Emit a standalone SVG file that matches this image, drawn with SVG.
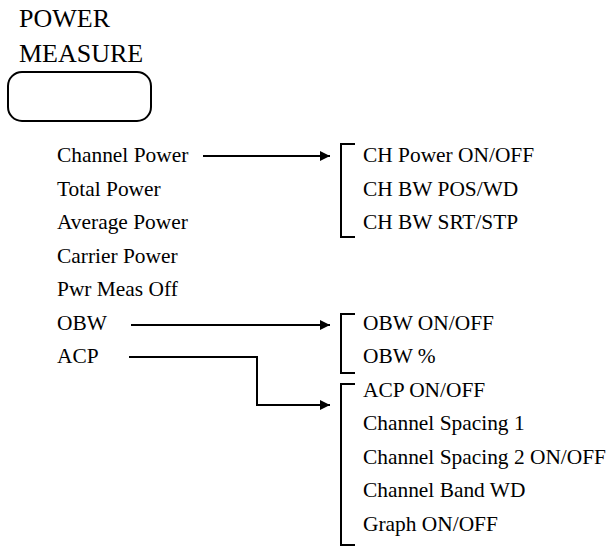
<svg xmlns="http://www.w3.org/2000/svg" width="611" height="549" viewBox="0 0 611 549">
<style>
.t{font-size:21.4px;font-family:'Liberation Serif','Times New Roman','DejaVu Serif',serif;fill:#000}
.h{font-size:26px;font-family:'Liberation Serif','Times New Roman','DejaVu Serif',serif;fill:#000}
.ln{fill:none;stroke:#000;stroke-width:2}
</style>
<defs>
<marker id="ah" viewBox="0 0 10 10" refX="10" refY="5" markerWidth="17" markerHeight="10" markerUnits="userSpaceOnUse" orient="auto"><path d="M0,0 L10,5 L0,10 z" fill="#000"/></marker>
</defs>
<rect width="611" height="549" fill="#fff"/>
<g id="header">
<text class="h" x="19" y="27">POWER</text>
<text class="h" x="19" y="62">MEASURE</text>
<rect class="ln" x="8" y="72" width="143" height="49" rx="14" ry="14"/>
</g>
<g id="menu">
<text class="t" x="57" y="162">Channel Power</text>
<text class="t" x="57" y="195.5">Total Power</text>
<text class="t" x="57" y="229">Average Power</text>
<text class="t" x="57" y="262.5">Carrier Power</text>
<text class="t" x="57" y="296">Pwr Meas Off</text>
<text class="t" x="57" y="329.5">OBW</text>
<text class="t" x="57" y="363">ACP</text>
</g>
<g id="ch-sub">
<path class="ln" d="M355,144 H341 V237 H355"/>
<text class="t" x="363" y="162">CH Power ON/OFF</text>
<text class="t" x="363" y="195.5">CH BW POS/WD</text>
<text class="t" x="363" y="229">CH BW SRT/STP</text>
</g>
<g id="obw-sub">
<path class="ln" d="M355,314 H341 V373 H355"/>
<text class="t" x="363" y="329.5">OBW ON/OFF</text>
<text class="t" x="363" y="363">OBW %</text>
</g>
<g id="acp-sub">
<path class="ln" d="M355,384 H341 V545 H355"/>
<text class="t" x="363" y="396.5">ACP ON/OFF</text>
<text class="t" x="363" y="430">Channel Spacing 1</text>
<text class="t" x="363" y="463.5">Channel Spacing 2 ON/OFF</text>
<text class="t" x="363" y="497">Channel Band WD</text>
<text class="t" x="363" y="530.5">Graph ON/OFF</text>
</g>
<g id="connectors">
<path class="ln" d="M203,156 H330" marker-end="url(#ah)"/>
<path class="ln" d="M131,325 H330" marker-end="url(#ah)"/>
<path class="ln" d="M129,357 H257 V405 H330" marker-end="url(#ah)"/>
</g>
</svg>
